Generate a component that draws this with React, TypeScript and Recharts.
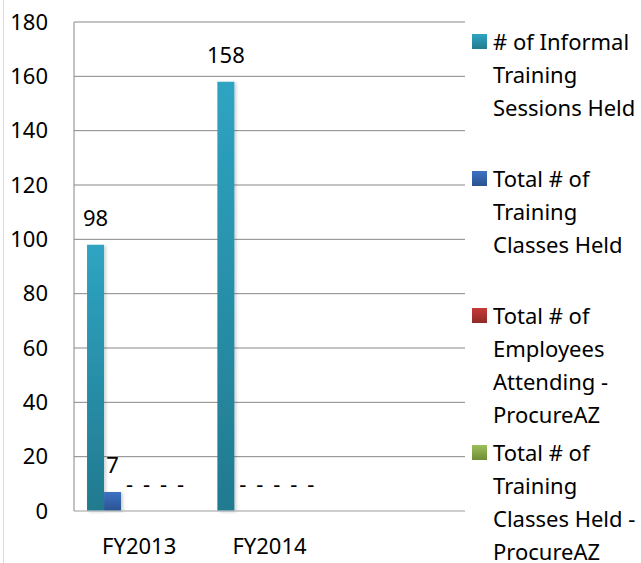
import { BarChart, Bar, XAxis, YAxis, CartesianGrid, LabelList, Cell } from 'recharts'

const categories = ['FY2013', 'FY2014', '']

const informalSessions = [98, 158, null]
const trainingClasses = [7, 0, null]
const employeesAttendingProcureAZ = [0, 0, null]
const trainingClassesProcureAZ = [0, 0, null]
// two more series sit below the visible legend (cut off in the picture)
const series5 = [0, 0, null]
const series6 = [0, 0, null]

const yTicks = [0, 20, 40, 60, 80, 100, 120, 140, 160, 180]

const series = [
  { key: 's1', name: '# of Informal Training Sessions Held', values: informalSessions, top: '#2ea4c2', bottom: '#227a8f' },
  { key: 's2', name: 'Total # of Training Classes Held', values: trainingClasses, top: '#3d72c4', bottom: '#2a5390' },
  { key: 's3', name: 'Total # of Employees Attending - ProcureAZ', values: employeesAttendingProcureAZ, top: '#c63b37', bottom: '#8f2a27' },
  { key: 's4', name: 'Total # of Training Classes Held - ProcureAZ', values: trainingClassesProcureAZ, top: '#9cc05a', bottom: '#6f8c37' },
  { key: 's5', name: 'Series 5', values: series5, top: '#8064a2', bottom: '#5f4a7a' },
  { key: 's6', name: 'Series 6', values: series6, top: '#f79646', bottom: '#b86e30' },
]

const data = categories.map((category, i) => {
  const row: Record<string, string | number | null> = { category }
  series.forEach((s) => {
    row[s.key] = s.values[i]
  })
  return row
})

const FONT = '"Noto Sans", sans-serif'

function BarLabel(props: any) {
  const vb = props.viewBox ?? props
  const { value } = props
  if (value === null || value === undefined) return null
  const x = vb.x + vb.width / 2
  // zero bars are given 1px so they get a label; put it on the baseline
  const y = value === 0 ? vb.y + vb.height : vb.y
  return (
    <text x={x} y={y - 19} textAnchor="middle" fill="#000" fontSize={22} fontFamily={FONT}>
      {value === 0 ? '-' : value}
    </text>
  )
}

const zeroMinSize = (value: any) => (value === 0 ? 1 : 0)

export default function App() {
  return (
    <div
      style={{
        position: 'absolute',
        left: 0,
        top: 0,
        width: 641,
        height: 563,
        overflow: 'hidden',
        background: '#fff',
        fontFamily: FONT,
      }}
    >
      <div style={{ position: 'absolute', left: 3, top: 0, width: 1, height: 563, background: '#d9d9d9' }} />
      <BarChart
        width={641}
        height={563}
        data={data}
        margin={{ top: 22, right: 176, bottom: 22, left: 0 }}
        barCategoryGap="10%"
        barGap={0}
      >
        <defs>
          {series.map((s) => (
            <linearGradient key={s.key} id={`grad-${s.key}`} x1="0" y1="0" x2="0" y2="1">
              <stop offset="0%" stopColor={s.top} />
              <stop offset="100%" stopColor={s.bottom} />
            </linearGradient>
          ))}
          <filter id="barShadow" x="-20%" y="-5%" width="150%" height="115%">
            <feDropShadow dx="2" dy="1" stdDeviation="1.5" floodColor="#000" floodOpacity="0.18" />
          </filter>
        </defs>
        <CartesianGrid vertical={false} stroke="#878787" />
        <XAxis
          dataKey="category"
          height={30}
          interval={0}
          axisLine={{ stroke: '#d9d9d9' }}
          tickLine={false}
          tickSize={0}
          tickMargin={27}
          tick={{ fill: '#000', fontSize: 22, fontFamily: FONT }}
        />
        <YAxis
          domain={[0, 180]}
          ticks={yTicks}
          width={74}
          axisLine={{ stroke: '#878787' }}
          tickLine={false}
          tickSize={0}
          tickMargin={26}
          tick={{ fill: '#000', fontSize: 22, fontFamily: FONT }}
        />
        {series.map((s) => (
          <Bar
            key={s.key}
            dataKey={s.key}
            name={s.name}
            fill={`url(#grad-${s.key})`}
            filter="url(#barShadow)"
            minPointSize={zeroMinSize}
            isAnimationActive={false}
          >
            {s.values.map((v, i) => (
              <Cell key={i} fill={v === 0 ? 'transparent' : `url(#grad-${s.key})`} />
            ))}
            <LabelList dataKey={s.key} content={BarLabel} />
          </Bar>
        ))}
      </BarChart>
      <div style={{ position: 'absolute', left: 472, top: 25 }}>
        {series.map((s) => (
          <div key={s.key} style={{ display: 'flex', alignItems: 'flex-start', height: 137 }}>
            <div
              style={{
                width: 15,
                height: 15,
                marginTop: 9,
                marginRight: 6,
                background: `linear-gradient(${s.top}, ${s.bottom})`,
                flex: 'none',
              }}
            />
            <div style={{ width: 148, fontSize: 22, lineHeight: '33px', color: '#000' }}>{s.name}</div>
          </div>
        ))}
      </div>
    </div>
  )
}
